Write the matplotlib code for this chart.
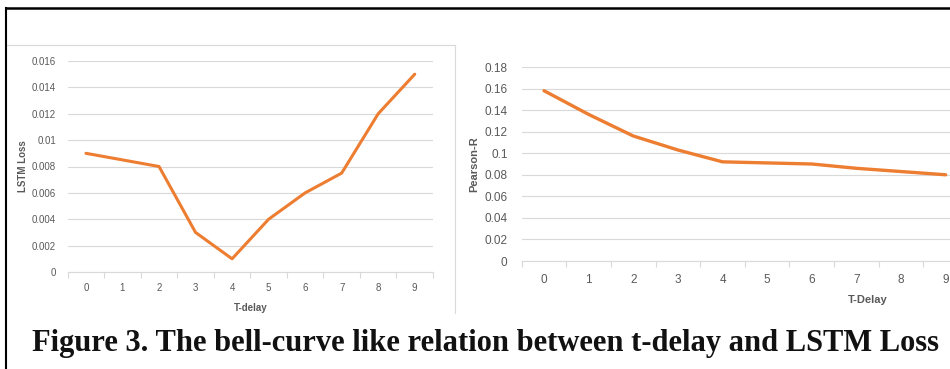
import matplotlib
matplotlib.use("Agg")
import matplotlib.pyplot as plt
from matplotlib.lines import Line2D

t_delay = [0, 1, 2, 3, 4, 5, 6, 7, 8, 9]
lstm_loss = [0.009, 0.0085, 0.008, 0.003, 0.001, 0.004, 0.006, 0.0075, 0.012, 0.015]
pearson_r = [0.158, 0.136, 0.116, 0.103, 0.092, 0.091, 0.090, 0.086, 0.083, 0.080]
loss_ticks = [0, 0.002, 0.004, 0.006, 0.008, 0.01, 0.012, 0.014, 0.016]
loss_tick_labels = ["0", "0.002", "0.004", "0.006", "0.008", "0.01", "0.012", "0.014", "0.016"]
r_ticks = [0, 0.02, 0.04, 0.06, 0.08, 0.1, 0.12, 0.14, 0.16, 0.18]
r_tick_labels = ["0", "0.02", "0.04", "0.06", "0.08", "0.1", "0.12", "0.14", "0.16", "0.18"]
caption = "Figure 3. The bell-curve like relation between t-delay and LSTM Loss"

W, H = 950, 369
fig = plt.figure(figsize=(W / 100, H / 100), dpi=100)
plt.rcParams['font.family'] = ['Liberation Sans', 'DejaVu Sans']

ORANGE = "#ED7D31"
GRID = "#d9d9d9"
TXT = "#595959"


def px_axes(x0, x1, ytop, ybot):
    return fig.add_axes([x0 / W, 1 - ybot / H, (x1 - x0) / W, (ybot - ytop) / H])


def style(ax, ticks, labels, fs, xlab, ylab, lfs):
    ax.set_xlim(-0.5, 9.5)
    ax.set_ylim(ticks[0], ticks[-1])
    ax.set_yticks(ticks)
    ax.set_yticklabels(labels)
    ax.set_xticks(t_delay)
    ax.set_xticks([i - 0.5 for i in range(11)], minor=True)
    ax.tick_params(axis='x', which='major', length=0, labelsize=fs, colors=TXT, pad=fs * 1.1)
    ax.tick_params(axis='x', which='minor', length=4, color=GRID, width=0.8)
    ax.tick_params(axis='y', length=0, labelsize=fs, colors=TXT, pad=fs * 1.2)
    ax.grid(axis='y', color=GRID, linewidth=0.8)
    ax.set_axisbelow(True)
    for s in ['top', 'right', 'left']:
        ax.spines[s].set_visible(False)
    ax.spines['bottom'].set_color(GRID)
    ax.spines['bottom'].set_linewidth(0.8)
    ax.set_xlabel(xlab, fontsize=lfs, fontweight='bold', color=TXT)
    ax.set_ylabel(ylab, fontsize=lfs, fontweight='bold', color=TXT)


ax1 = px_axes(67.7, 433, 61, 272)
ax1.plot(t_delay, lstm_loss, color=ORANGE, linewidth=2.2, solid_capstyle='round')
style(ax1, loss_ticks, loss_tick_labels, 7, "T-delay", "LSTM Loss", 7)
ax1.xaxis.set_label_coords(0.5, -0.145)
ax1.yaxis.set_label_coords(-0.11, 0.5)

ax2 = px_axes(521.7, 968, 67, 261)
ax2.plot(t_delay, pearson_r, color=ORANGE, linewidth=2.4, solid_capstyle='round')
style(ax2, r_ticks, r_tick_labels, 8.5, "T-Delay", "Pearson-R", 8)
ax2.xaxis.set_label_coords((868 - 521.7) / (968 - 521.7), -0.175)
ax2.yaxis.set_label_coords(-0.095, 0.5)

# chart frames
fig.add_artist(Line2D([7 / W, 455 / W], [1 - 45 / H, 1 - 45 / H], color="#d9d9d9", linewidth=0.8))
fig.add_artist(Line2D([455 / W, 455 / W], [1 - 45 / H, 1 - 313 / H], color="#d9d9d9", linewidth=0.8))

# black page border
fig.add_artist(Line2D([6 / W, 1], [1 - 8 / H, 1 - 8 / H], color="black", linewidth=1.8))
fig.add_artist(Line2D([6 / W, 6 / W], [1 - 8 / H, 0], color="black", linewidth=1.5))

fig.text(485 / W, 1 - 343 / H, caption, ha='center', va='center', fontsize=22,
         fontweight='bold', family=['Liberation Serif', 'DejaVu Serif'], color='#111111')

fig.savefig("out.png", dpi=100)
